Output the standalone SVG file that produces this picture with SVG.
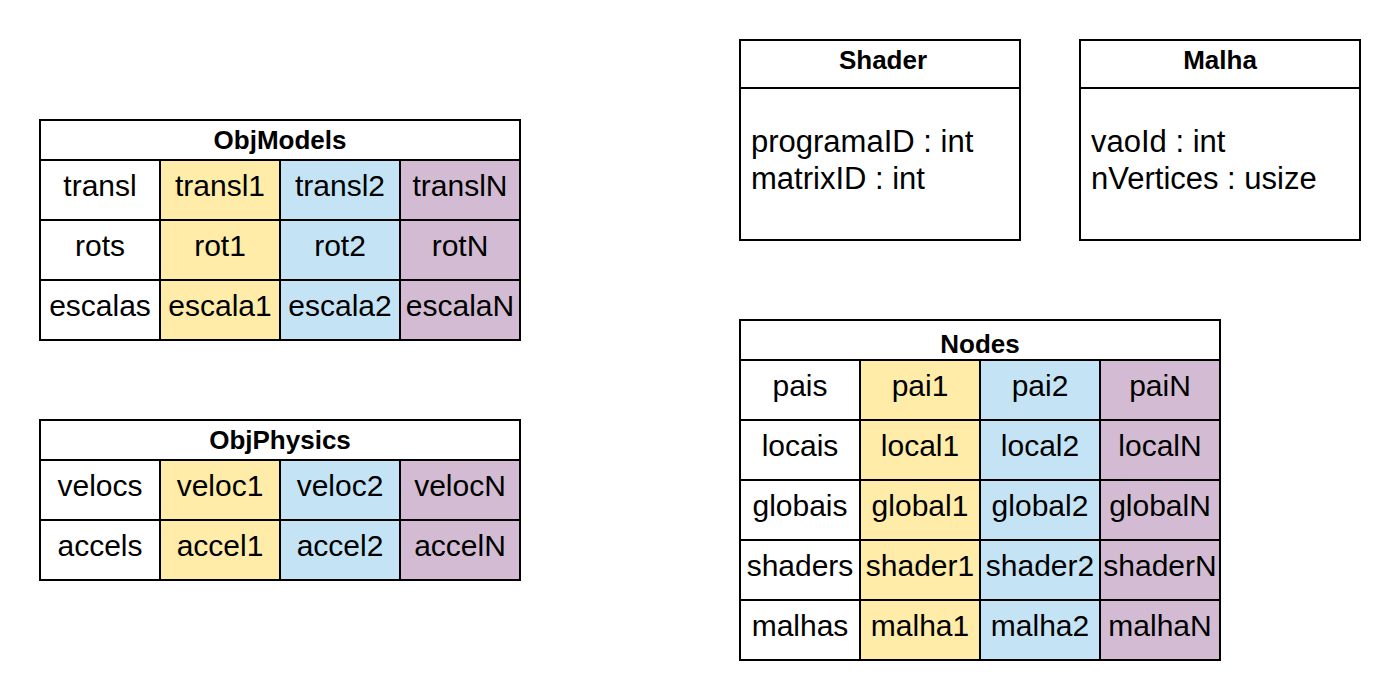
<svg xmlns="http://www.w3.org/2000/svg" width="1400" height="700" viewBox="0 0 1400 700">
<style>
  .c { stroke: #000; stroke-width: 2; }
  .w { fill: #ffffff; }
  .y { fill: #FFECA8; }
  .b { fill: #C4E4F6; }
  .p { fill: #D3BCD3; }
  text { font-family: "Liberation Sans", Arial, sans-serif; fill: #000; }
  .t { font-size: 30px; text-anchor: middle; }
  .h { font-size: 26px; font-weight: bold; text-anchor: middle; }
  .a { font-size: 31px; }
</style>
<rect x="0" y="0" width="1400" height="700" fill="#ffffff"/>

<g id="ObjModels">
  <rect class="c w" x="40" y="120" width="480" height="40"/>
  <text class="h" x="280" y="149">ObjModels</text>
  <rect class="c w" x="40" y="160" width="120" height="60"/>
  <rect class="c y" x="160" y="160" width="120" height="60"/>
  <rect class="c b" x="280" y="160" width="120" height="60"/>
  <rect class="c p" x="400" y="160" width="120" height="60"/>
  <rect class="c w" x="40" y="220" width="120" height="60"/>
  <rect class="c y" x="160" y="220" width="120" height="60"/>
  <rect class="c b" x="280" y="220" width="120" height="60"/>
  <rect class="c p" x="400" y="220" width="120" height="60"/>
  <rect class="c w" x="40" y="280" width="120" height="60"/>
  <rect class="c y" x="160" y="280" width="120" height="60"/>
  <rect class="c b" x="280" y="280" width="120" height="60"/>
  <rect class="c p" x="400" y="280" width="120" height="60"/>
  <text class="t" x="100" y="196">transl</text>
  <text class="t" x="220" y="196">transl1</text>
  <text class="t" x="340" y="196">transl2</text>
  <text class="t" x="460" y="196">translN</text>
  <text class="t" x="100" y="256">rots</text>
  <text class="t" x="220" y="256">rot1</text>
  <text class="t" x="340" y="256">rot2</text>
  <text class="t" x="460" y="256">rotN</text>
  <text class="t" x="100" y="316">escalas</text>
  <text class="t" x="220" y="316">escala1</text>
  <text class="t" x="340" y="316">escala2</text>
  <text class="t" x="460" y="316">escalaN</text>
</g>

<g id="ObjPhysics">
  <rect class="c w" x="40" y="420" width="480" height="40"/>
  <text class="h" x="280" y="449">ObjPhysics</text>
  <rect class="c w" x="40" y="460" width="120" height="60"/>
  <rect class="c y" x="160" y="460" width="120" height="60"/>
  <rect class="c b" x="280" y="460" width="120" height="60"/>
  <rect class="c p" x="400" y="460" width="120" height="60"/>
  <rect class="c w" x="40" y="520" width="120" height="60"/>
  <rect class="c y" x="160" y="520" width="120" height="60"/>
  <rect class="c b" x="280" y="520" width="120" height="60"/>
  <rect class="c p" x="400" y="520" width="120" height="60"/>
  <text class="t" x="100" y="496">velocs</text>
  <text class="t" x="220" y="496">veloc1</text>
  <text class="t" x="340" y="496">veloc2</text>
  <text class="t" x="460" y="496">velocN</text>
  <text class="t" x="100" y="556">accels</text>
  <text class="t" x="220" y="556">accel1</text>
  <text class="t" x="340" y="556">accel2</text>
  <text class="t" x="460" y="556">accelN</text>
</g>

<g id="Shader">
  <rect class="c w" x="740" y="40" width="280" height="200"/>
  <line class="c" x1="740" y1="88" x2="1020" y2="88"/>
  <text class="h" x="883" y="69">Shader</text>
  <text class="a" x="751" y="152">programaID : int</text>
  <text class="a" x="751" y="189">matrixID : int</text>
</g>

<g id="Malha">
  <rect class="c w" x="1080" y="40" width="280" height="200"/>
  <line class="c" x1="1080" y1="88" x2="1360" y2="88"/>
  <text class="h" x="1220" y="69">Malha</text>
  <text class="a" x="1091" y="152">vaoId : int</text>
  <text class="a" x="1091" y="189">nVertices : usize</text>
</g>

<g id="Nodes">
  <rect class="c w" x="740" y="320" width="480" height="40"/>
  <text class="h" x="980" y="353">Nodes</text>
  <rect class="c w" x="740" y="360" width="120" height="60"/>
  <rect class="c y" x="860" y="360" width="120" height="60"/>
  <rect class="c b" x="980" y="360" width="120" height="60"/>
  <rect class="c p" x="1100" y="360" width="120" height="60"/>
  <rect class="c w" x="740" y="420" width="120" height="60"/>
  <rect class="c y" x="860" y="420" width="120" height="60"/>
  <rect class="c b" x="980" y="420" width="120" height="60"/>
  <rect class="c p" x="1100" y="420" width="120" height="60"/>
  <rect class="c w" x="740" y="480" width="120" height="60"/>
  <rect class="c y" x="860" y="480" width="120" height="60"/>
  <rect class="c b" x="980" y="480" width="120" height="60"/>
  <rect class="c p" x="1100" y="480" width="120" height="60"/>
  <rect class="c w" x="740" y="540" width="120" height="60"/>
  <rect class="c y" x="860" y="540" width="120" height="60"/>
  <rect class="c b" x="980" y="540" width="120" height="60"/>
  <rect class="c p" x="1100" y="540" width="120" height="60"/>
  <rect class="c w" x="740" y="600" width="120" height="60"/>
  <rect class="c y" x="860" y="600" width="120" height="60"/>
  <rect class="c b" x="980" y="600" width="120" height="60"/>
  <rect class="c p" x="1100" y="600" width="120" height="60"/>
  <text class="t" x="800" y="396">pais</text>
  <text class="t" x="920" y="396">pai1</text>
  <text class="t" x="1040" y="396">pai2</text>
  <text class="t" x="1160" y="396">paiN</text>
  <text class="t" x="800" y="456">locais</text>
  <text class="t" x="920" y="456">local1</text>
  <text class="t" x="1040" y="456">local2</text>
  <text class="t" x="1160" y="456">localN</text>
  <text class="t" x="800" y="516">globais</text>
  <text class="t" x="920" y="516">global1</text>
  <text class="t" x="1040" y="516">global2</text>
  <text class="t" x="1160" y="516">globalN</text>
  <text class="t" x="800" y="576">shaders</text>
  <text class="t" x="920" y="576">shader1</text>
  <text class="t" x="1040" y="576">shader2</text>
  <text class="t" x="1160" y="576">shaderN</text>
  <text class="t" x="800" y="636">malhas</text>
  <text class="t" x="920" y="636">malha1</text>
  <text class="t" x="1040" y="636">malha2</text>
  <text class="t" x="1160" y="636">malhaN</text>
</g>

<g id="connectors"/>
</svg>
